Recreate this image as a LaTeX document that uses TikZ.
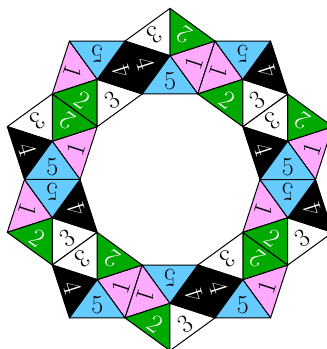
\documentclass[tikz,border=0pt]{standalone}
\definecolor{faceone}{RGB}{255,170,255}
\definecolor{facetwo}{RGB}{0,170,0}
\definecolor{facefive}{RGB}{102,204,255}
\tikzset{facet/.style={draw=black,line width=1pt,line join=round},
  digit/.style={font=\fontsize{26}{28}\selectfont,inner sep=0pt}}

\begin{document}
\begin{tikzpicture}[x=1pt,y=1pt]
  \useasboundingbox (-170,-169.5) rectangle (157,179.5);
  \clip (-170,-169.5) rectangle (157,179.5);
  \foreach \k in {0,...,9} {
    \begin{scope}[shift={(90+36*\k:123.8)}]
      \foreach \n/\col/\ink in {1/faceone/black,2/facetwo/white,3/white/black,4/black/white,5/facefive/black} {
        \pgfmathsetmacro\ang{-90+180*\k+72*\n}
        \draw[facet,fill=\col] (0,0) -- (\ang-36:47.3) -- (\ang+36:47.3) -- cycle;
        \node[digit,text=\ink,rotate=\ang+90] (d\k-\n) at (\ang:25.5) {\n};
      }
    \end{scope}
  }
\end{tikzpicture}
\end{document}
